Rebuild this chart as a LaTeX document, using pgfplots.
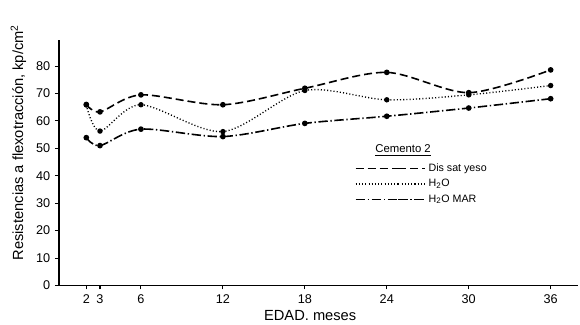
\documentclass[border=0pt]{standalone}
\usepackage{pgfplots}
\pgfplotsset{compat=1.18}
\usepackage{fontspec}
\setmainfont{Liberation Sans}
\begin{document}
\begin{tikzpicture}
\begin{axis}[
 scale only axis, width=389pt, height=184pt,
 xmin=0, xmax=38, ymin=0, ymax=89.5,
 axis lines=left, axis line style={-, line width=1pt},
 xtick={2,3,6,12,18,24,30,36}, ytick={0,10,...,80},
 tick style={black, line width=0.8pt}, tick align=outside, major tick length=3pt,
 tick label style={font=\fontsize{9.5}{10}\selectfont},
 /pgf/number format/assume math mode=true,
 xlabel={EDAD. meses}, ylabel={Resistencias a flexotracción, kp/cm\textsuperscript{2}},
 label style={font=\fontsize{11}{12}\selectfont},
 xlabel style={at={(rel axis cs:0.484,-0.122)}, anchor=center},
 ylabel style={at={(rel axis cs:-0.054,0.582)}, anchor=south},
 clip=false,
 legend style={at={(rel axis cs:0.562,0.52)}, anchor=north west, draw=none, fill=none, font=\fontsize{8}{9}\selectfont, row sep=0.5pt},
 legend cell align=left,
 legend image code/.code={\draw[#1] (0pt,0pt) -- (32pt,0pt); \path (32pt,0pt) -- (52pt,0pt);},
]
\addplot[black, line width=1.2pt, smooth, dash pattern=on 6pt off 3pt, mark=*, mark size=1.5pt, mark options={solid}]
 coordinates {(2,66)(3,63.3)(6,69.5)(12,65.9)(18,71.9)(24,77.7)(30,70.3)(36,78.6)};
\addlegendentry{Dis sat yeso}
\addplot[black, line width=1pt, smooth, dash pattern=on 0.8pt off 1.6pt, mark=*, mark size=1.5pt, mark options={solid}]
 coordinates {(2,65.8)(3,56.3)(6,65.9)(12,56.1)(18,71.1)(24,67.7)(30,69.5)(36,72.9)};
\addlegendentry{H\textsubscript{2}O}
\addplot[black, line width=1.2pt, smooth, dash pattern=on 7pt off 2pt on 1pt off 2pt, mark=*, mark size=1.5pt, mark options={solid}]
 coordinates {(2,53.9)(3,51.0)(6,57.0)(12,54.3)(18,59.1)(24,61.7)(30,64.7)(36,68.1)};
\addlegendentry{H\textsubscript{2}O MAR}
\node[font=\fontsize{8.5}{9}\selectfont] at (rel axis cs:0.663,0.551) {\underline{Cemento 2}};
\coordinate (bl) at (rel axis cs:-0.1137,-0.158);
\coordinate (tr) at (rel axis cs:1.0039,1.163);
\end{axis}
\pgfresetboundingbox
\path (bl) rectangle (tr);
\end{tikzpicture}
\end{document}
